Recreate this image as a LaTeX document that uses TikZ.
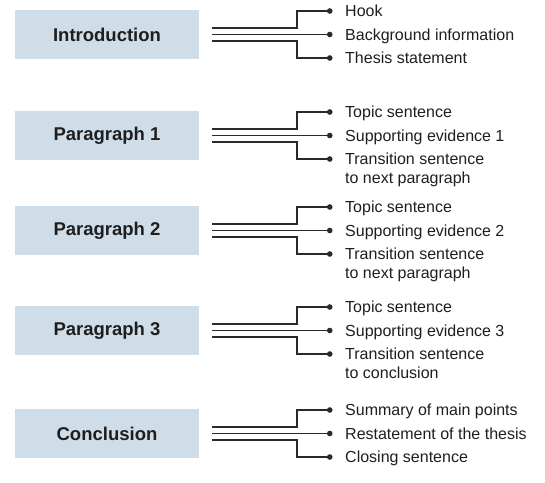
\documentclass[tikz,border=0pt]{standalone}
\usepackage{fontspec}
\setmainfont{Liberation Sans}
\usetikzlibrary{arrows.meta, positioning}
\definecolor{esBox}{HTML}{CFDDE9}
\definecolor{esInk}{HTML}{1E1E1E}
\definecolor{esLine}{HTML}{2A2A2A}
\newcommand{\twolines}[2]{\begin{tabular}[t]{@{}l@{}}#1\\#2\end{tabular}}
\tikzset{
  part/.style={
    rectangle,
    fill=esBox,
    minimum width=184pt,
    minimum height=49pt,
    inner sep=0pt,
    text=esInk,
    font=\fontsize{18.5}{22}\selectfont\bfseries
  },
  item/.style={
    anchor=base west,
    yshift=-5.5pt,
    inner sep=0pt,
    text=esInk,
    font=\fontsize{16}{18.5}\selectfont
  },
  link/.style={-{Circle[length=5.5pt]}, line width=1.5pt, draw=esLine}
}
\begin{document}
\begin{tikzpicture}[x=1pt, y=-1pt]
\useasboundingbox (0,0) rectangle (545,482);

% sections
\node[part] (intro) at (107,34.5) {Introduction};
\node[part] (para1) at (107,135.5) {Paragraph 1};
\node[part] (para2) at (107,230.5) {Paragraph 2};
\node[part] (para3) at (107,330.5) {Paragraph 3};
\node[part] (concl) at (107,433.5) {Conclusion};

% points of each section
\node[item] (hook) at (345,11) {Hook};
\node[item] (background) at (345,34.5) {Background information};
\node[item] (thesis) at (345,58) {Thesis statement};

\node[item] (topic1) at (345,112) {Topic sentence};
\node[item] (evidence1) at (345,135.5) {Supporting evidence 1};
\node[item] (transition1) at (345,159) {\twolines{Transition sentence}{to next paragraph}};

\node[item] (topic2) at (345,207) {Topic sentence};
\node[item] (evidence2) at (345,230.5) {Supporting evidence 2};
\node[item] (transition2) at (345,254) {\twolines{Transition sentence}{to next paragraph}};

\node[item] (topic3) at (345,307) {Topic sentence};
\node[item] (evidence3) at (345,330.5) {Supporting evidence 3};
\node[item] (transition3) at (345,354) {\twolines{Transition sentence}{to conclusion}};

\node[item] (summary) at (345,410) {Summary of main points};
\node[item] (restate) at (345,433.5) {Restatement of the thesis};
\node[item] (closing) at (345,457) {Closing sentence};

% connectors (text baseline sits 5.5pt below the dot)
\draw[link] ([shift={(13,-6.5)}]intro.east) -| ([shift={(-48,-5.5)}]hook.base west) -- ([shift={(-12.5,-5.5)}]hook.base west);
\draw[link] ([xshift=13pt]intro.east) -- ([shift={(-12.5,-5.5)}]background.base west);
\draw[link] ([shift={(13,6.5)}]intro.east) -| ([shift={(-48,-5.5)}]thesis.base west) -- ([shift={(-12.5,-5.5)}]thesis.base west);

\draw[link] ([shift={(13,-6.5)}]para1.east) -| ([shift={(-48,-5.5)}]topic1.base west) -- ([shift={(-12.5,-5.5)}]topic1.base west);
\draw[link] ([xshift=13pt]para1.east) -- ([shift={(-12.5,-5.5)}]evidence1.base west);
\draw[link] ([shift={(13,6.5)}]para1.east) -| ([shift={(-48,-5.5)}]transition1.base west) -- ([shift={(-12.5,-5.5)}]transition1.base west);

\draw[link] ([shift={(13,-6.5)}]para2.east) -| ([shift={(-48,-5.5)}]topic2.base west) -- ([shift={(-12.5,-5.5)}]topic2.base west);
\draw[link] ([xshift=13pt]para2.east) -- ([shift={(-12.5,-5.5)}]evidence2.base west);
\draw[link] ([shift={(13,6.5)}]para2.east) -| ([shift={(-48,-5.5)}]transition2.base west) -- ([shift={(-12.5,-5.5)}]transition2.base west);

\draw[link] ([shift={(13,-6.5)}]para3.east) -| ([shift={(-48,-5.5)}]topic3.base west) -- ([shift={(-12.5,-5.5)}]topic3.base west);
\draw[link] ([xshift=13pt]para3.east) -- ([shift={(-12.5,-5.5)}]evidence3.base west);
\draw[link] ([shift={(13,6.5)}]para3.east) -| ([shift={(-48,-5.5)}]transition3.base west) -- ([shift={(-12.5,-5.5)}]transition3.base west);

\draw[link] ([shift={(13,-6.5)}]concl.east) -| ([shift={(-48,-5.5)}]summary.base west) -- ([shift={(-12.5,-5.5)}]summary.base west);
\draw[link] ([xshift=13pt]concl.east) -- ([shift={(-12.5,-5.5)}]restate.base west);
\draw[link] ([shift={(13,6.5)}]concl.east) -| ([shift={(-48,-5.5)}]closing.base west) -- ([shift={(-12.5,-5.5)}]closing.base west);

\end{tikzpicture}
\end{document}
